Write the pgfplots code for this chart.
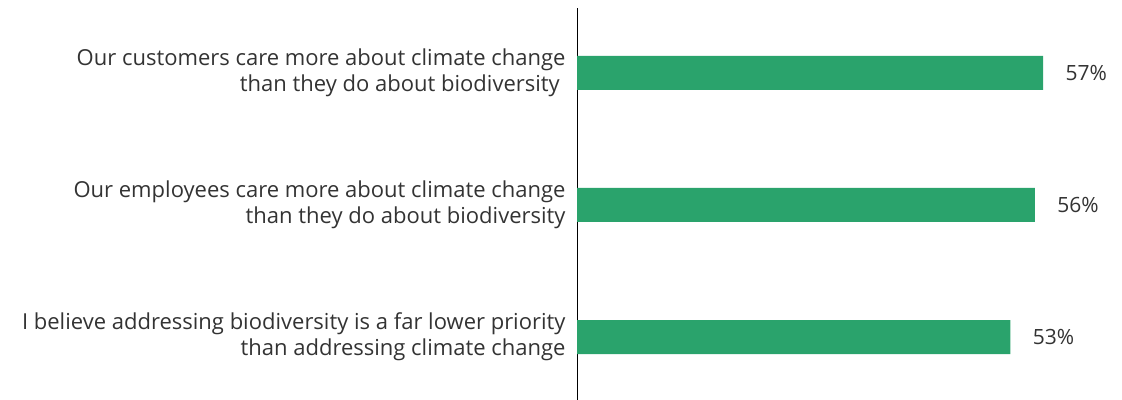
\documentclass[border=0pt]{standalone}
\usepackage{pgfplots}
\pgfplotsset{compat=1.18}
\usepackage{fontspec}
\setmainfont{Open Sans}
\definecolor{bargreen}{RGB}{42,163,108}
\definecolor{txt}{RGB}{51,51,51}
\begin{document}
\begin{tikzpicture}
\useasboundingbox (0,0) rectangle (1122bp,400bp);
\begin{axis}[
  at={(577bp,0bp)}, anchor=south west,
  scale only axis,
  width=531.4bp, height=392bp,
  xbar, bar width=34bp,
  xmin=0, xmax=65,
  ymin=-0.477, ymax=2.492,
  hide x axis,
  axis y line*=left,
  y axis line style={black, line width=0.8pt, -},
  ytick={0,1,2},
  yticklabels={{I believe addressing biodiversity is a far lower priority\\than addressing climate change},
               {Our employees care more about climate change\\than they do about biodiversity},
               {Our customers care more about climate change\\than they do about biodiversity\ \ }},
  major tick length=0pt,
  yticklabel style={align=right, font=\fontsize{22bp}{26bp}\selectfont, text=txt, xshift=-8bp},
  /pgf/number format/assume math mode=true,
  nodes near coords={\pgfmathprintnumber{\pgfplotspointmeta}\%},
  nodes near coords align=horizontal,
  every node near coord/.append style={font=\fontsize{21bp}{24bp}\selectfont, text=txt, anchor=west, xshift=19bp},
  point meta=explicit,
]
\addplot[fill=bargreen, draw=none] coordinates {(53,0) [53] (56,1) [56] (57,2) [57]};
\end{axis}
\end{tikzpicture}
\end{document}
